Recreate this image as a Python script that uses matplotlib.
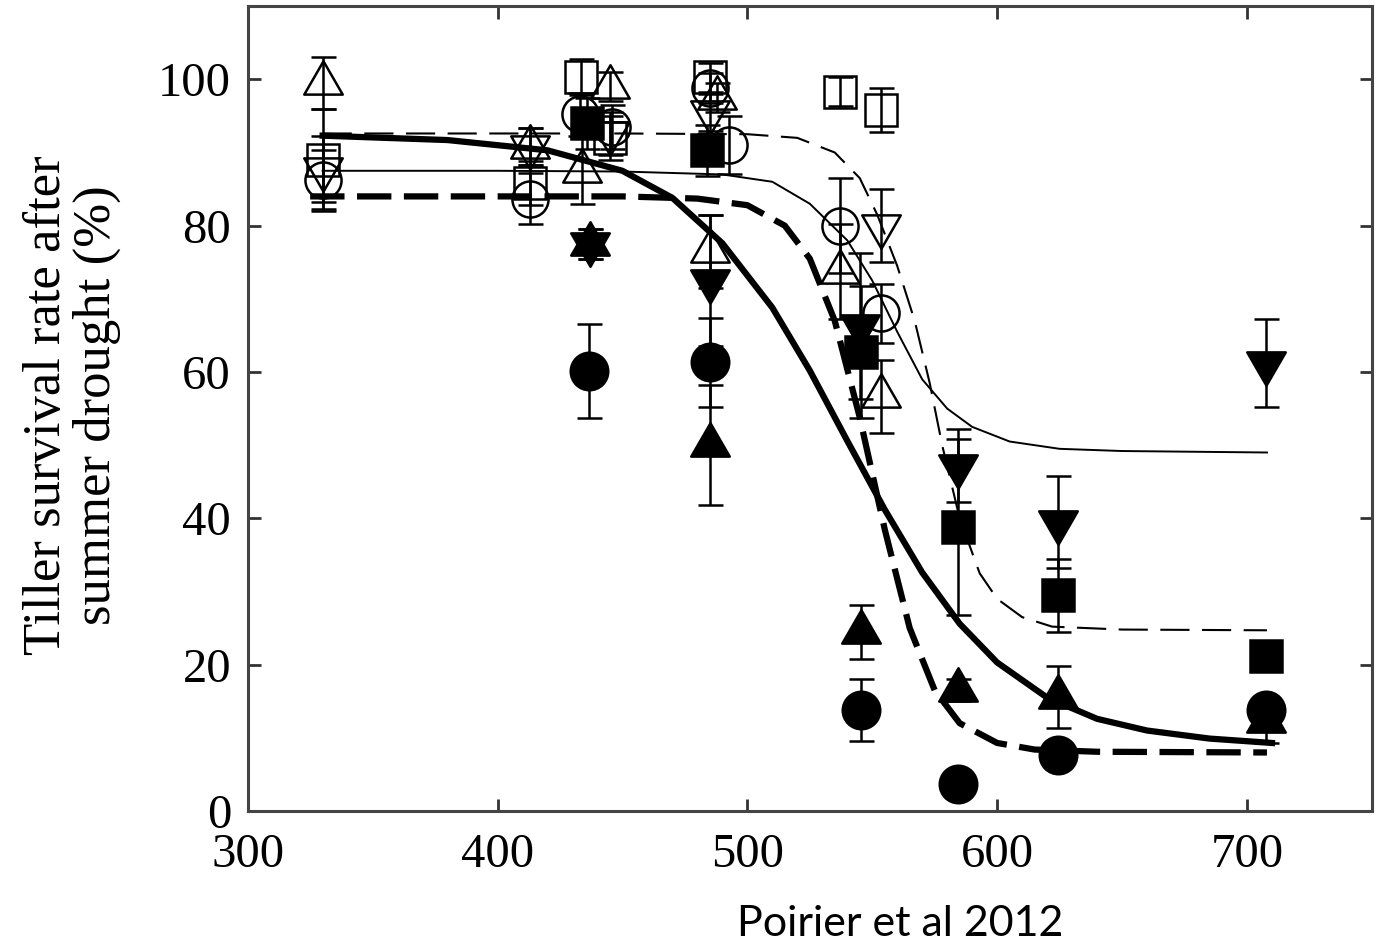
import matplotlib
matplotlib.use("Agg")
from matplotlib import pyplot as plt
from matplotlib.path import Path

# ---- data ----
# open triangle up
tri_up_open_x = [330, 413, 434, 445, 488, 485, 537, 553.5]
tri_up_open_y = [99.5, 90.8, 87.5, 99.0, 97.5, 76.5, 73.7, 56.7]
tri_up_open_err = [3.5, 2.5, 4.5, 2.0, 2.0, 5.0, 6.5, 5.0]

# open triangle down
tri_dn_open_x = [330, 413, 445, 485, 553.5]
tri_dn_open_y = [87.8, 90.8, 92.6, 95.5, 80.0]
tri_dn_open_err = [4.5, 2.5, 3.0, 2.5, 5.0]

# open square
sq_open_x = [330, 413, 433.5, 445, 485, 537, 553.5]
sq_open_y = [89.0, 85.8, 100.3, 92.0, 100.3, 98.3, 95.8]
sq_open_err = [7.0, 3.0, 2.5, 3.0, 2.0, 2.0, 3.0]

# open circle
circ_open_x = [330, 413, 433, 446, 485, 492.5, 537, 553.5]
circ_open_y = [86.3, 83.7, 95.2, 93.5, 98.8, 91.0, 80.0, 68.0]
circ_open_err = [4.0, 3.5, 3.0, 3.0, 2.0, 4.0, 6.5, 4.0]

# filled square
sq_fill_x = [436, 484, 545.5, 584.5, 624.5, 707.5]
sq_fill_y = [94.0, 90.3, 62.7, 38.8, 29.5, 21.2]
sq_fill_err = [3.5, 3.5, 9.0, 12.0, 5.0, 1.5]

# filled triangle down
tri_dn_fill_x = [437, 485, 545, 584.5, 624.5, 707.5]
tri_dn_fill_y = [77.5, 72.5, 66.3, 47.2, 39.5, 61.2]
tri_dn_fill_err = [2.0, 9.0, 10.0, 5.0, 6.3, 6.0]

# filled triangle up
tri_up_fill_x = [437, 485, 545.5, 584.5, 624.5, 707.5]
tri_up_fill_y = [77.5, 50.0, 24.5, 16.6, 15.6, 12.3]
tri_up_fill_err = [2.0, 8.2, 3.7, 1.5, 4.2, 3.0]

# filled circle
circ_fill_x = [436.5, 485, 545.5, 584.5, 624.5, 707.5]
circ_fill_y = [60.1, 61.3, 13.8, 3.7, 7.7, 13.8]
circ_fill_err = [6.4, 6.1, 4.2, 1.0, 1.5, 1.5]

# fitted curves, points
thick_solid_x = [330, 380, 420, 450, 470, 490, 510, 525, 540, 555, 570, 585, 600, 620, 640, 660, 685, 710]
thick_solid_y = [92.3, 91.7, 90.3, 87.5, 83.8, 77.6, 68.8, 60.2, 50.6, 41.2, 32.6, 25.6, 20.3, 15.5, 12.6, 11.0, 9.9, 9.3]

thick_dash_x = [325, 400, 450, 480, 500, 515, 525, 535, 545, 555, 565, 575, 585, 600, 615, 640, 708]
thick_dash_y = [84.0, 84.0, 84.0, 83.7, 82.8, 80.0, 75.5, 67.0, 53.8, 38.5, 25.0, 16.5, 12.0, 9.3, 8.4, 8.1, 8.0]

thin_solid_x = [330, 400, 450, 490, 510, 525, 540, 550, 560, 570, 580, 590, 605, 625, 650, 708]
thin_solid_y = [87.5, 87.5, 87.4, 87.0, 86.0, 83.0, 78.0, 72.5, 65.5, 59.0, 55.0, 52.5, 50.5, 49.5, 49.2, 49.0]

thin_dash_x = [330, 400, 450, 500, 520, 535, 545, 552, 560, 567, 573, 578, 585, 593, 600, 610, 622, 650, 708]
thin_dash_y = [92.6, 92.6, 92.6, 92.5, 92.0, 90.0, 86.5, 81.5, 74.5, 67.0, 58.5, 50.0, 40.0, 32.5, 29.0, 26.5, 25.2, 24.8, 24.7]

x_ticks = [300, 400, 500, 600, 700]
y_ticks = [0, 20, 40, 60, 80, 100]

# triangles centred on their centroid, so an up and a down one give a star
TRI_UP = Path([(0, 1), (-0.866, -0.5), (0.866, -0.5), (0, 1)], closed=True)
TRI_DN = Path([(0, -1), (-0.866, 0.5), (0.866, 0.5), (0, -1)], closed=True)

plt.rcParams['font.family'] = ['Liberation Serif', 'DejaVu Serif']

fig = plt.figure(figsize=(13.76, 9.48), dpi=100)
ax = fig.add_axes([0.180, 0.1445, 0.817, 0.849])

# curves
ax.plot(thin_solid_x, thin_solid_y, color='black', lw=1.4, zorder=2)
ax.plot(thin_dash_x, thin_dash_y, color='black', lw=1.5, dashes=(14, 6), zorder=2)
ax.plot(thick_solid_x, thick_solid_y, color='black', lw=4.5, zorder=2)
ax.plot(thick_dash_x, thick_dash_y, color='black', lw=4.5, dashes=(5.5, 2.0), zorder=2)

eb = dict(fmt='none', ecolor='black', elinewidth=1.8, capsize=9, capthick=1.8, zorder=3)

series = [
    (tri_up_open_x, tri_up_open_y, tri_up_open_err, TRI_UP, 'none', 32),
    (tri_dn_open_x, tri_dn_open_y, tri_dn_open_err, TRI_DN, 'none', 32),
    (sq_open_x, sq_open_y, sq_open_err, 's', 'none', 23),
    (circ_open_x, circ_open_y, circ_open_err, 'o', 'none', 26),
    (sq_fill_x, sq_fill_y, sq_fill_err, 's', 'black', 23),
    (tri_dn_fill_x, tri_dn_fill_y, tri_dn_fill_err, TRI_DN, 'black', 32),
    (tri_up_fill_x, tri_up_fill_y, tri_up_fill_err, TRI_UP, 'black', 32),
    (circ_fill_x, circ_fill_y, circ_fill_err, 'o', 'black', 27),
]

for xs, ys, es, m, fc, ms in series:
    ax.errorbar(xs, ys, yerr=es, **eb)
    ax.plot(xs, ys, linestyle='none', marker=m, markersize=ms, markerfacecolor=fc,
            markeredgecolor='black', markeredgewidth=1.8, zorder=4)

ax.set_xlim(300, 750)
ax.set_ylim(0, 110)
ax.set_xticks(x_ticks)
ax.set_yticks(y_ticks)
ax.tick_params(direction='in', length=9, width=2, top=True, right=True, labelsize=35, colors='#333333', labelcolor='black')
ax.tick_params(axis='x', pad=16)
ax.tick_params(axis='y', pad=12)
for s in ax.spines.values():
    s.set_linewidth(2.2)
    s.set_color('#444444')

fig.text(72 / 1376, (948 - 405) / 948, 'Tiller survival rate after\nsummer drought (%)',
         rotation=90, ha='center', va='center', multialignment='center', fontsize=38, linespacing=1.02)

fig.text(900 / 1376, (948 - 924) / 948, 'Poirier et al 2012', ha='center', va='center',
         fontsize=31, family=['Lato', 'DejaVu Sans'])

fig.savefig('out.png', dpi=100)
